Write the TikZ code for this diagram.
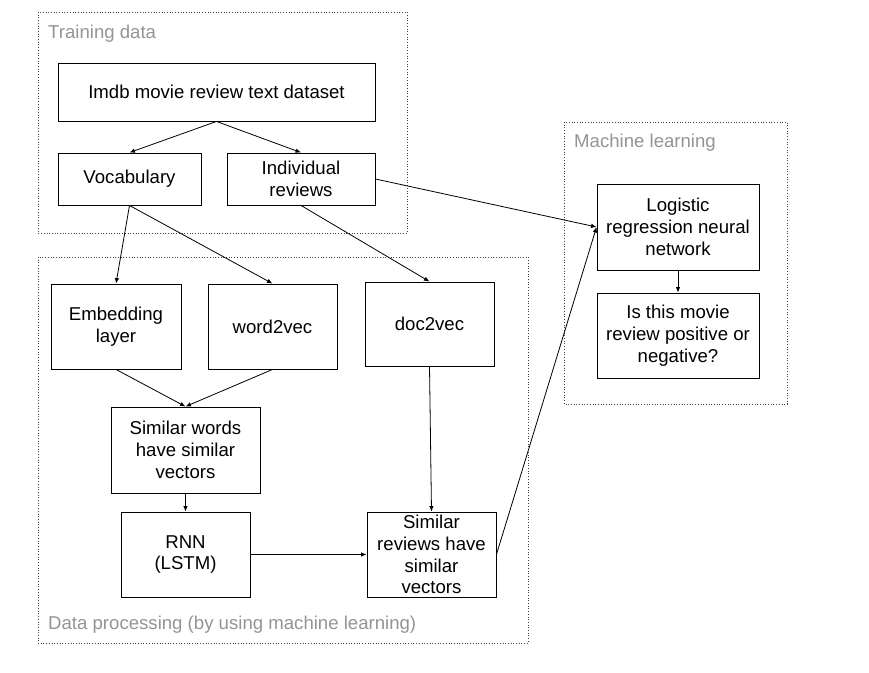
\documentclass[tikz,border=0pt]{standalone}
\usepackage{fontspec}
\setmainfont{Liberation Sans}
\usetikzlibrary{arrows.meta}
\begin{document}
\begin{tikzpicture}[x=1pt,y=-1pt,
  box/.style={draw=black,line width=0.9pt,align=center,inner sep=0pt,
    font=\fontsize{18.6}{21.7}\selectfont},
  frame/.style={draw=black!75,line width=0.7pt,dotted},
  grouplabel/.style={anchor=west,inner sep=0pt,text=black!42,
    font=\fontsize{18.6}{21.7}\selectfont},
  conn/.style={draw=black,line width=0.8pt,-{Latex[length=5.5pt,width=4.5pt]}}]
\useasboundingbox (0,0) rectangle (869,672);
% frames
\draw[frame] (38,12) rectangle (407,233);
\draw[frame] (38,257) rectangle (528,643);
\draw[frame] (564,122) rectangle (787,404);
\node[grouplabel] (lt) at (48,34) {Training data};
\node[grouplabel] (ld) at (48,625) {Data processing (by using machine learning)};
\node[grouplabel] (lm) at (574,143) {Machine learning};
% boxes
\node[box,minimum width=317pt,minimum height=58pt] (imdb) at (216.5,92) {Imdb movie review text dataset};
\node[box,minimum width=143pt,minimum height=52pt] (vocab) at (129.5,179) {Vocabulary};
\node[box,minimum width=148pt,minimum height=52pt] (indiv) at (301,179) {Individual\\reviews};
\node[box,minimum width=130pt,minimum height=85pt] (embed) at (116,326.5) {Embedding\\layer};
\node[box,minimum width=129pt,minimum height=85pt] (w2v) at (272.5,326.5) {word2vec};
\node[box,minimum width=129pt,minimum height=84pt] (d2v) at (429.5,324) {doc2vec};
\node[box,minimum width=149pt,minimum height=86pt] (simw) at (185.5,450) {Similar words\\have similar\\vectors};
\node[box,minimum width=129pt,minimum height=85pt] (rnn) at (185.5,554.5) {RNN\\(LSTM)};
\node[box,minimum width=129pt,minimum height=85pt] (simr) at (431.5,554.5) {Similar\\reviews have\\similar\\vectors};
\node[box,minimum width=162pt,minimum height=86pt] (logit) at (678,227) {Logistic\\regression neural\\network};
\node[box,minimum width=162pt,minimum height=85pt] (isthis) at (678,335.5) {Is this movie\\review positive or\\negative?};
% connectors
\draw[conn] (imdb.south) -- (vocab.north);
\draw[conn] (imdb.south) -- (indiv.north);
\draw[conn] (vocab.south) -- (embed.north);
\draw[conn] (vocab.south) -- (w2v.north);
\draw[conn] (indiv.south) -- (d2v.north);
\draw[conn] (embed.south) -- (simw.north);
\draw[conn] (w2v.south) -- (simw.north);
\draw[conn] (simw.south) -- (rnn.north);
\draw[conn] (d2v.south) -- (simr.north);
\draw[conn] (rnn.east) -- (simr.west);
\draw[conn] (simr.east) -- (logit.west);
\draw[conn] (indiv.east) -- (logit.west);
\draw[conn] (logit.south) -- (isthis.north);
\end{tikzpicture}
\end{document}
